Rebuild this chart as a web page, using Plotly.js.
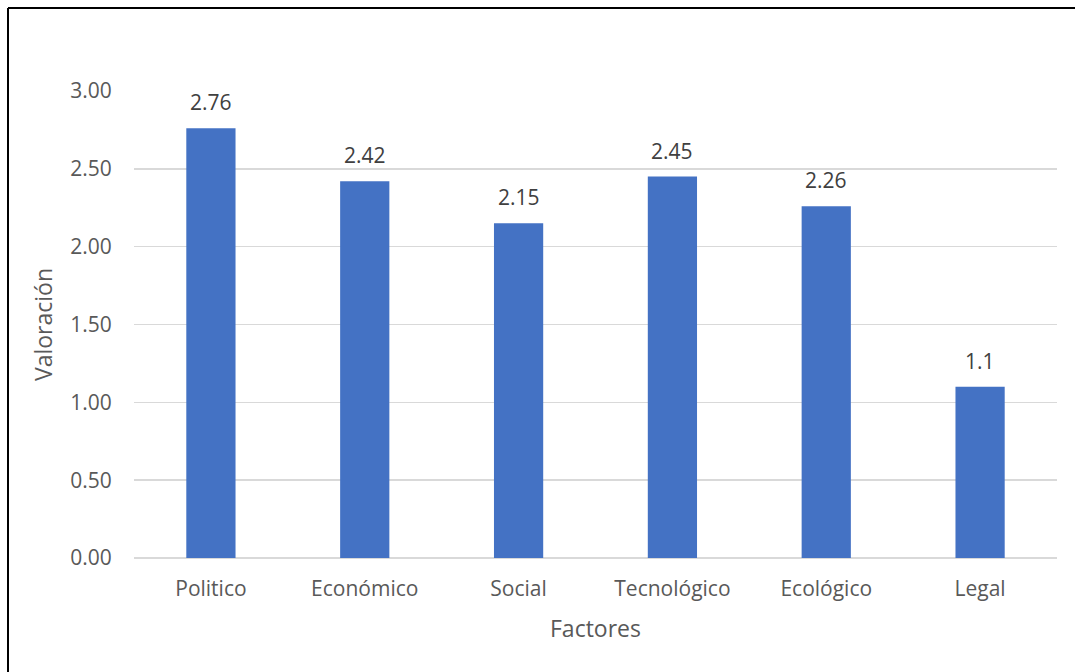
<!DOCTYPE html>
<html>
<head>
<meta charset="utf-8">
<script src="https://cdn.plot.ly/plotly-3.0.1.min.js"></script>
<style>
html,body{margin:0;padding:0;background:#fff;}
#chart{width:1075px;height:672px;}
</style>
</head>
<body>
<div id="chart"></div>
<script>
const categories = ["Politico", "Económico", "Social", "Tecnológico", "Ecológico", "Legal"];
const values = [2.76, 2.42, 2.15, 2.45, 2.26, 1.1];
const valueLabels = ["2.76", "2.42", "2.15", "2.45", "2.26", "1.1"];
const yTickVals = [0, 0.5, 1, 1.5, 2, 2.5, 3];
const yTickText = ["0.00", "0.50", "1.00", "1.50", "2.00", "2.50", "3.00"];

const W = 1075, H = 672;
const m = {l: 134, r: 18, t: 91, b: 114};
const pw = W - m.l - m.r, ph = H - m.t - m.b;
function px(x){ return (x - m.l) / pw; }
function py(y){ return (H - m.b - y) / ph; }

const font = "Open Sans, Liberation Sans, sans-serif";

const trace = {
  type: "bar",
  x: categories,
  y: values,
  marker: {color: "#4472C4"},
  hoverinfo: "x+y"
};

const labelAnnotations = categories.map((c, i) => ({
  x: c, y: values[i], xref: "x", yref: "y",
  text: valueLabels[i],
  showarrow: false,
  xanchor: "center", yanchor: "bottom",
  yshift: 10,
  font: {family: font, size: 21, color: "#404040"}
}));

const layout = {
  width: W, height: H,
  margin: m,
  paper_bgcolor: "#ffffff",
  plot_bgcolor: "#ffffff",
  showlegend: false,
  bargap: 0.68,
  font: {family: font, color: "#595959"},
  xaxis: {
    type: "category",
    showgrid: false,
    zeroline: false,
    showline: false,
    ticks: "outside",
    ticklen: 12,
    tickcolor: "rgba(0,0,0,0)",
    tickfont: {family: font, size: 21, color: "#595959"},
    title: {text: "Factores", font: {family: font, size: 23, color: "#595959"}, standoff: 19}
  },
  yaxis: {
    range: [0, 3],
    tickvals: yTickVals,
    ticktext: yTickText,
    showgrid: true,
    gridcolor: "#D9D9D9",
    gridwidth: 1.5,
    zeroline: true,
    zerolinecolor: "#D9D9D9",
    zerolinewidth: 1.5,
    showline: false,
    ticks: "outside",
    ticklen: 17,
    tickcolor: "rgba(0,0,0,0)",
    tickfont: {family: font, size: 21, color: "#595959"},
    title: {text: "Valoración", font: {family: font, size: 23, color: "#595959"}, standoff: 11}
  },
  annotations: labelAnnotations,
  shapes: [
    {type: "line", xref: "paper", yref: "paper", x0: px(8), x1: px(W + 5), y0: py(8), y1: py(8), line: {color: "#000", width: 2}},
    {type: "line", xref: "paper", yref: "paper", x0: px(8), x1: px(8), y0: py(8), y1: py(H + 5), line: {color: "#000", width: 2}}
  ]
};

Plotly.newPlot("chart", [trace], layout, {displayModeBar: false, staticPlot: true});
</script>
</body>
</html>
